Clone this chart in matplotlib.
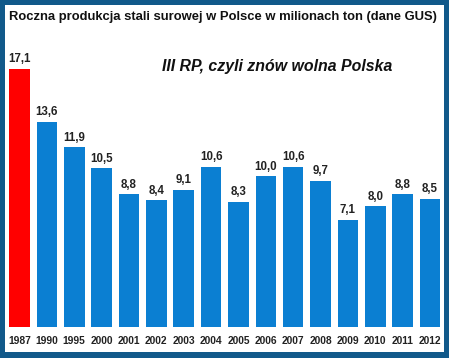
import matplotlib
matplotlib.use("Agg")
import matplotlib.pyplot as plt
from matplotlib.patches import Rectangle

years = ["1987", "1990", "1995", "2000", "2001", "2002", "2003", "2004",
         "2005", "2006", "2007", "2008", "2009", "2010", "2011", "2012"]
values = [17.1, 13.6, 11.9, 10.5, 8.8, 8.4, 9.1, 10.6,
          8.3, 10.0, 10.6, 9.7, 7.1, 8.0, 8.8, 8.5]
labels = ["17,1", "13,6", "11,9", "10,5", "8,8", "8,4", "9,1", "10,6",
          "8,3", "10,0", "10,6", "9,7", "7,1", "8,0", "8,8", "8,5"]
title = "Roczna produkcja stali surowej w Polsce w milionach ton (dane GUS)"
subtitle = "III RP, czyli znów wolna Polska"

W, H = 449, 358
fig = plt.figure(figsize=(W / 100, H / 100), dpi=100)
fig.patch.set_facecolor("#11598a")
bg = Rectangle((5 / W, 6 / H), (W - 10) / W, (H - 11) / H,
               transform=fig.transFigure, facecolor="white",
               edgecolor="none", zorder=-10)
fig.patches.append(bg)

plt.rcParams["font.family"] = ["Liberation Sans", "DejaVu Sans"]

step = 27.37
left_px, bottom_px = 19.5 - step / 2, 31
width_px = 16 * step
ymax = 18.5
height_px = ymax * 15.1
ax = fig.add_axes([left_px / W, bottom_px / H, width_px / W, height_px / H])
ax.set_facecolor("none")
ax.set_zorder(5)

colors = ["#ff0000"] + ["#0b7fd2"] * (len(values) - 1)
x = list(range(len(values)))
ax.bar(x, values, width=0.75, color=colors, zorder=2)
for xi, v, lab in zip(x, values, labels):
    ax.annotate(lab, (xi, v), xytext=(0, 2.5), textcoords="offset points",
                ha="center", va="bottom", fontsize=8.3, fontweight="bold",
                color="#222222")

ax.set_xlim(-0.5, len(values) - 0.5)
ax.set_ylim(0, ymax)
ax.set_xticks(x)
ax.set_xticklabels(years, fontsize=7.4, fontweight="bold", color="#222222")
ax.tick_params(axis="x", length=0, pad=6.5)
ax.set_yticks([])
for s in ax.spines.values():
    s.set_visible(False)

fig.text(223 / W, 1 - 17 / H, title, ha="center", va="center",
         fontsize=9.35, fontweight="bold", color="#111111")
fig.text(277 / W, 1 - 66 / H, subtitle, ha="center", va="center",
         fontsize=11.4, fontweight="bold", fontstyle="italic", color="#111111")

fig.savefig("out.png", dpi=100, facecolor=fig.get_facecolor())
